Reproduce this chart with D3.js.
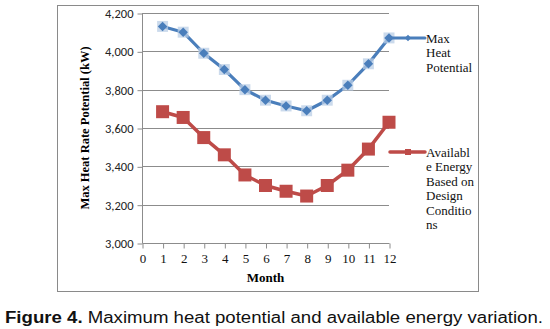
<!DOCTYPE html>
<html>
<head>
<meta charset="utf-8">
<script src="https://cdn.jsdelivr.net/npm/d3@7"></script>
<style>
  html, body { margin: 0; padding: 0; background: #fff; }
  svg { display: block; }
</style>
</head>
<body>
<svg id="chart" width="550" height="329"></svg>
<script>
// Monthly values (kW)
const months = [1, 2, 3, 4, 5, 6, 7, 8, 9, 10, 11, 12];
const maxHeatPotential = [4130, 4100, 3990, 3905, 3800, 3745, 3715, 3690, 3745, 3823, 3935, 4070];
const availableEnergy = [3685, 3655, 3550, 3460, 3355, 3300, 3270, 3245, 3300, 3380, 3490, 3630];
const xTicks = [0, 1, 2, 3, 4, 5, 6, 7, 8, 9, 10, 11, 12];
const yTicks = [3000, 3200, 3400, 3600, 3800, 4000, 4200];
const seriesNames = ["Max Heat Potential", "Available Energy Based on Design Conditions"];
const legendLines = [["Max", "Heat", "Potential"], ["Availabl", "e Energy", "Based on", "Design", "Conditio", "ns"]];

const svg = d3.select("#chart");
const blue = "#4a7ebb", red = "#be4b48";
const serif = "'Liberation Serif', 'Times New Roman', serif";
const sans = "Carlito, 'Liberation Sans', Arial, sans-serif";

// Outer chart frame
svg.append("rect")
  .attr("x", 57.5).attr("y", 5.5).attr("width", 421).attr("height", 286)
  .attr("fill", "#fff").attr("stroke", "#8a8a8a").attr("stroke-width", 1);

const x = d3.scaleLinear().domain([0, 12]).range([142, 389]);
const y = d3.scaleLinear().domain([3000, 4200]).range([243, 13]);

// Horizontal gridlines
svg.append("g")
  .selectAll("line")
  .data(yTicks.filter(d => d > 3000))
  .join("line")
  .attr("x1", x(0)).attr("x2", x(12))
  .attr("y1", d => Math.round(y(d)) + 0.5).attr("y2", d => Math.round(y(d)) + 0.5)
  .attr("stroke", "#8c8c8c").attr("stroke-width", 1);

// Y axis
const yAxis = svg.append("g")
  .attr("transform", `translate(${x(0) + 0.5},0.5)`)
  .call(d3.axisLeft(y).tickValues(yTicks).tickSize(5).tickPadding(4).tickFormat(d3.format(",")));
yAxis.selectAll("path, line").attr("stroke", "#8c8c8c");
yAxis.select(".domain").attr("d", `M0,${y(4200)}V${y(3000)}`);
yAxis.selectAll("text").attr("font-family", sans).attr("font-size", 12.5).attr("fill", "#222");

// X axis
const xAxis = svg.append("g")
  .attr("transform", `translate(0.5,${y(3000) + 0.5})`)
  .call(d3.axisBottom(x).tickValues(xTicks).tickSize(5).tickPadding(5).tickFormat(d3.format("d")));
xAxis.selectAll("path, line").attr("stroke", "#8c8c8c");
xAxis.select(".domain").attr("d", `M${x(0)},0H${x(12)}`);
xAxis.selectAll("text").attr("font-family", serif).attr("font-size", 13).attr("fill", "#111");

// Axis titles
svg.append("text")
  .attr("x", x(6)).attr("y", 282)
  .attr("text-anchor", "middle")
  .attr("font-family", serif).attr("font-weight", "bold").attr("font-size", 13)
  .text("Month");

svg.append("text")
  .attr("transform", `translate(89,${(y(3000) + y(4200)) / 2}) rotate(-90)`)
  .attr("text-anchor", "middle")
  .attr("font-family", serif).attr("font-weight", "bold").attr("font-size", 12.5)
  .text("Max Heat Rate Potential (kW)");

const line = d3.line().x(d => x(d[0])).y(d => y(d[1]));

// Max heat potential series
const bluePts = months.map((m, i) => [m, maxHeatPotential[i]]);
svg.append("path").datum(bluePts)
  .attr("d", line).attr("fill", "none")
  .attr("stroke", blue).attr("stroke-width", 3.2).attr("stroke-linejoin", "round");
svg.append("g").selectAll("path")
  .data(bluePts).join("path")
  .attr("transform", d => `translate(${x(d[0])},${y(d[1])})`)
  .attr("d", d3.symbol().type(d3.symbolSquare).size(120)())
  .attr("fill", "#b9cde6").attr("opacity", 0.75);
svg.append("g").selectAll("path")
  .data(bluePts).join("path")
  .attr("transform", d => `translate(${x(d[0])},${y(d[1])}) rotate(45)`)
  .attr("d", d3.symbol().type(d3.symbolSquare).size(45)())
  .attr("fill", blue);

// Available energy series
const redPts = months.map((m, i) => [m, availableEnergy[i]]);
svg.append("path").datum(redPts)
  .attr("d", line).attr("fill", "none")
  .attr("stroke", red).attr("stroke-width", 3.5).attr("stroke-linejoin", "round");
svg.append("g").selectAll("rect")
  .data(redPts).join("rect")
  .attr("x", d => x(d[0]) - 6.5).attr("y", d => y(d[1]) - 6.5)
  .attr("width", 13).attr("height", 13)
  .attr("fill", red);

// Legend
const legendY = [38, 152];
const legendColors = [blue, red];
legendLines.forEach((lines, i) => {
  const g = svg.append("g").attr("class", "legend-item").attr("aria-label", seriesNames[i]);
  g.append("line")
    .attr("x1", 390).attr("x2", 425)
    .attr("y1", legendY[i]).attr("y2", legendY[i])
    .attr("stroke", legendColors[i]).attr("stroke-width", i === 0 ? 3 : 3.5)
    .attr("stroke-linecap", "round");
  if (i === 0) {
    g.append("path")
      .attr("transform", `translate(408,${legendY[i]}) rotate(45)`)
      .attr("d", d3.symbol().type(d3.symbolSquare).size(20)())
      .attr("fill", blue);
  } else {
    g.append("rect")
      .attr("x", 405).attr("y", legendY[i] - 3).attr("width", 6).attr("height", 6)
      .attr("fill", red);
  }
  g.selectAll("text").data(lines).join("text")
    .attr("x", 426).attr("y", (d, j) => legendY[i] + 5 + j * 14.4)
    .attr("font-family", serif).attr("font-size", 13).attr("fill", "#111")
    .text(d => d);
});

// Caption
const cap = svg.append("text")
  .attr("x", 5).attr("y", 322.5)
  .attr("font-family", "'Liberation Sans', Arial, sans-serif").attr("font-size", 16).attr("fill", "#111")
  .attr("textLength", 538).attr("lengthAdjust", "spacingAndGlyphs");
cap.append("tspan").attr("font-weight", "bold").text("Figure 4.");
cap.append("tspan").text(" Maximum heat potential and available energy variation.");
</script>
</body>
</html>
